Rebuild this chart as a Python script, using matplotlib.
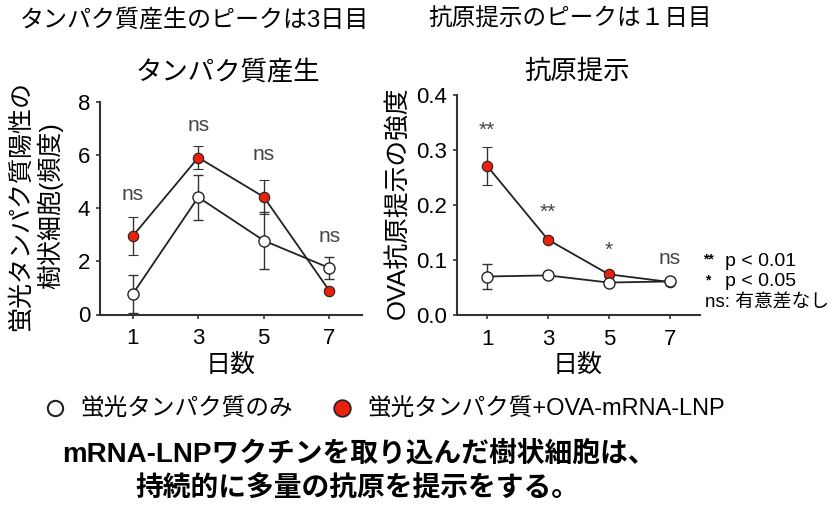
import matplotlib
matplotlib.use("Agg")
import matplotlib.pyplot as plt
from matplotlib.lines import Line2D

plt.rcParams['font.family'] = ['Liberation Sans', 'Noto Sans CJK JP', 'DejaVu Sans']

days = [1, 3, 5, 7]

# タンパク質産生 (left)
prot_ctrl = [0.77, 4.41, 2.78, 1.75]
prot_ctrl_err = [0.70, 0.85, 1.08, 0.42]
prot_ova = [2.95, 5.90, 4.42, 0.90]
prot_ova_err = [0.72, 0.43, 0.65, 0.07]
prot_marks = ['ns', 'ns', 'ns', 'ns']
prot_mark_y = [4.5, 7.1, 6.0, 2.95]

# 抗原提示 (right)
ag_ctrl = [0.070, 0.072, 0.059, 0.061]
ag_ctrl_err = [0.023, 0.003, 0.003, 0.003]
ag_ova = [0.271, 0.137, 0.074, 0.060]
ag_ova_err = [0.034, 0.005, 0.004, 0.002]
ag_marks = ['**', '**', '*', 'ns']
ag_mark_y = [0.335, 0.186, 0.117, 0.102]

RED = '#e8200c'
DARK = '#222222'
W, H = 840, 517


def px(x, y):
    return x / W, 1 - y / H


def draw_panel(ax, ctrl, ctrl_err, ova, ova_err, marks, mark_y):
    ax.errorbar(days, ova, yerr=ova_err, color=DARK, lw=1.3, ecolor='#333333',
                elinewidth=1.0, capsize=3.5, capthick=1.0, marker='o', ms=7.5,
                mfc=RED, mec=DARK, mew=0.8, zorder=3)
    ax.errorbar(days, ctrl, yerr=ctrl_err, color=DARK, lw=1.3, ecolor='#333333',
                elinewidth=1.0, capsize=3.5, capthick=1.0, marker='o', ms=8,
                mfc='white', mec=DARK, mew=1.0, zorder=4)
    for d, m, y in zip(days, marks, mark_y):
        ax.text(d, y, m, ha='center', va='center', fontsize=15, color='#444444')
    ax.set_xlim(0, 8)
    ax.set_xticks(days)
    for s in ['top', 'right']:
        ax.spines[s].set_visible(False)
    for s in ['left', 'bottom']:
        ax.spines[s].set_linewidth(1.5)
        ax.spines[s].set_color('#333333')
    ax.tick_params(axis='both', direction='out', length=3, width=1.2,
                   color='#333333', labelsize=16)
    ax.tick_params(axis='x', pad=7)
    ax.tick_params(axis='y', pad=4)


fig = plt.figure(figsize=(8.4, 5.17), dpi=100)

ax1 = fig.add_axes([100 / W, 1 - 314.5 / H, 262 / W, 212.8 / H])
draw_panel(ax1, prot_ctrl, prot_ctrl_err, prot_ova, prot_ova_err, prot_marks, prot_mark_y)
ax1.set_ylim(0, 8)
ax1.set_yticks([0, 2, 4, 6, 8])

ax2 = fig.add_axes([456.7 / W, 1 - 315 / H, 243.3 / W, 220 / H])
draw_panel(ax2, ag_ctrl, ag_ctrl_err, ag_ova, ag_ova_err, ag_marks, ag_mark_y)
ax2.set_ylim(0, 0.4)
ax2.set_yticks([0.0, 0.1, 0.2, 0.3, 0.4])
ax2.set_yticklabels(['0.0', '0.1', '0.2', '0.3', '0.4'])

# titles
fig.text(*px(20, 20), 'タンパク質産生のピークは3日目', fontsize=17.3, ha='left', va='center')
fig.text(*px(428, 20), '抗原提示のピークは１日目', fontsize=17, ha='left', va='center')
fig.text(*px(228, 72), 'タンパク質産生', fontsize=19, ha='center', va='center')
fig.text(*px(577, 72), '抗原提示', fontsize=19, ha='center', va='center')

# axis labels
fig.text(*px(36, 206), '蛍光タンパク質陽性の\n樹状細胞(頻度)', fontsize=18, rotation=90,
         ha='center', va='center', linespacing=1.15)
fig.text(*px(398, 203), 'OVA抗原提示の強度', fontsize=18.5, rotation=90,
         ha='center', va='center')
fig.text(*px(231, 365), '日数', fontsize=18, ha='center', va='center')
fig.text(*px(578, 365), '日数', fontsize=18, ha='center', va='center')

# significance key
fig.text(*px(703, 259), '**', fontsize=10, ha='left', va='center', weight='bold')
fig.text(*px(725, 261), 'p < 0.01', fontsize=14, ha='left', va='center')
fig.text(*px(705, 280), '*', fontsize=10, ha='left', va='center', weight='bold')
fig.text(*px(725, 282), 'p < 0.05', fontsize=14, ha='left', va='center')
fig.text(*px(705, 303), 'ns: 有意差なし', fontsize=13.5, ha='left', va='center')

# legend
handles = [
    Line2D([], [], ls='none', marker='o', ms=11, mfc='white', mec=DARK, mew=1.5),
    Line2D([], [], ls='none', marker='o', ms=12, mfc=RED, mec=DARK, mew=1.2),
]
labels = ['蛍光タンパク質のみ', '蛍光タンパク質+OVA-mRNA-LNP']
fig.legend(handles, labels, ncol=2, loc='center left', bbox_to_anchor=px(43, 410),
           frameon=False, fontsize=17, handlelength=1.0, handletextpad=0.56,
           columnspacing=1.6, borderpad=0, borderaxespad=0)

# conclusion
fig.text(*px(359, 455), 'mRNA-LNPワクチンを取り込んだ樹状細胞は、', fontsize=20,
         ha='center', va='center', weight='bold')
fig.text(*px(357, 488), '持続的に多量の抗原を提示をする。', fontsize=20,
         ha='center', va='center', weight='bold')

fig.savefig('out.png', dpi=100)
